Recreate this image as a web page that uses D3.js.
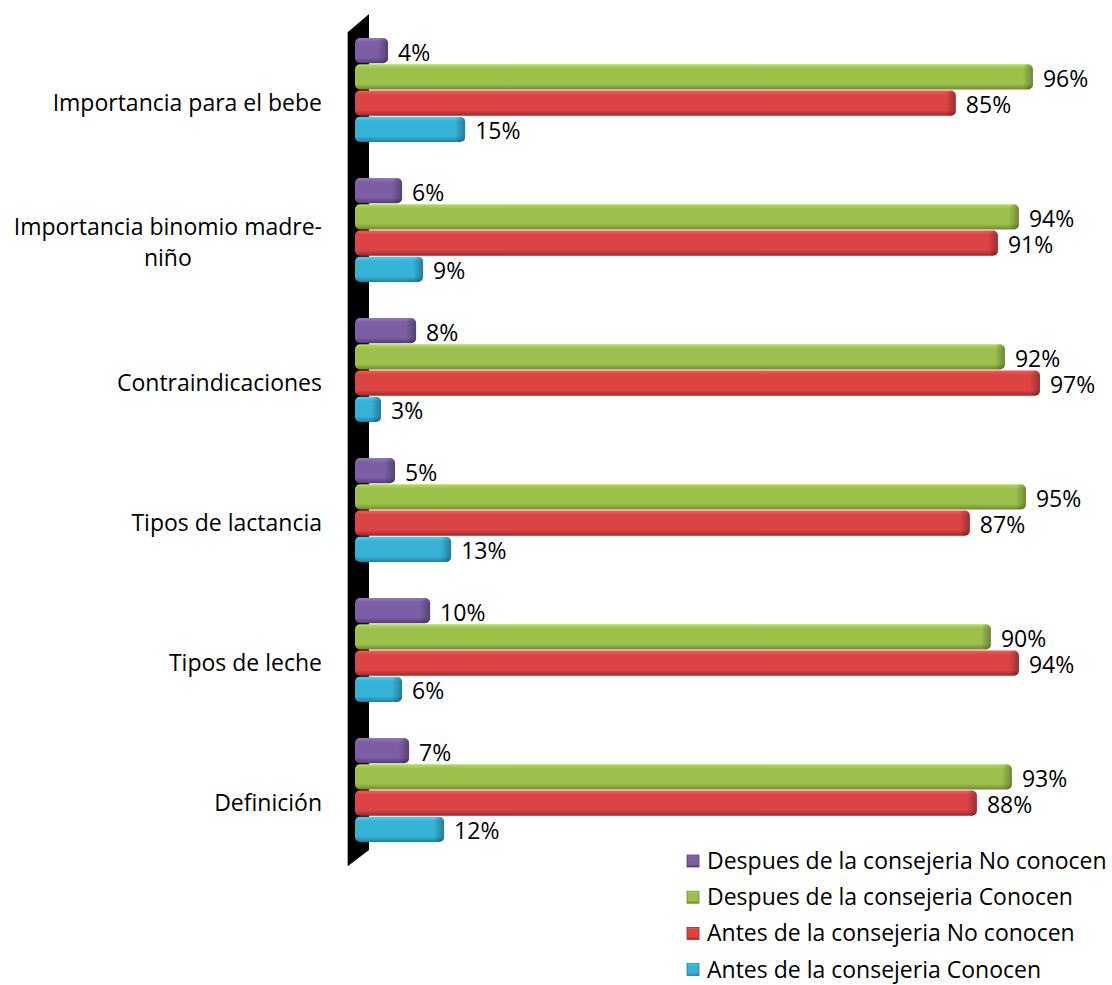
<!DOCTYPE html>
<html>
<head>
<meta charset="utf-8">
<script src="https://cdn.jsdelivr.net/npm/d3@7"></script>
<style>
  body { margin: 0; background: #fff; }
  text { font-family: "Open Sans", "Noto Sans", sans-serif; fill: #000; }
</style>
</head>
<body>
<div id="chart"></div>
<script>
var categories = [
    'Importancia para el bebe',
    'Importancia binomio madre-|niño',
    'Contraindicaciones',
    'Tipos de lactancia',
    'Tipos de leche',
    'Definición'
];

var series = [
    'Despues de la consejeria No conocen',
    'Despues de la consejeria Conocen',
    'Antes de la consejeria No conocen',
    'Antes de la consejeria Conocen'
];

// values per category, same order as categories
var despuesNoConocen = [4, 6, 8, 5, 10, 7];
var despuesConocen   = [96, 94, 92, 95, 90, 93];
var antesNoConocen   = [85, 91, 97, 87, 94, 88];
var antesConocen     = [15, 9, 3, 13, 6, 12];

var seriesValues = [despuesNoConocen, despuesConocen, antesNoConocen, antesConocen];

var colors = [
    { top: '#9378bb', mid: '#7b5ea3', bot: '#553a78' },
    { top: '#b6db60', mid: '#9cc04c', bot: '#6c8c2c' },
    { top: '#f25858', mid: '#dc4444', bot: '#a02828' },
    { top: '#55d0ef', mid: '#36b2d6', bot: '#1d82a3' }
];

var W = 1112, H = 985;
var fs = 23;

var svg = d3.select('#chart')
    .append('svg')
    .attr('width', W)
    .attr('height', H);

var defs = svg.append('defs');

colors.forEach(function(c, i) {
    var g = defs.append('linearGradient')
        .attr('id', 'grad' + i)
        .attr('x1', 0).attr('y1', 0).attr('x2', 0).attr('y2', 1);
    g.append('stop').attr('offset', '0%').attr('stop-color', c.top);
    g.append('stop').attr('offset', '18%').attr('stop-color', c.mid);
    g.append('stop').attr('offset', '78%').attr('stop-color', c.mid);
    g.append('stop').attr('offset', '100%').attr('stop-color', c.bot);
});

var capGrad = defs.append('linearGradient')
    .attr('id', 'capGrad')
    .attr('x1', 0).attr('y1', 0).attr('x2', 1).attr('y2', 0);
capGrad.append('stop').attr('offset', '0%').attr('stop-color', '#000').attr('stop-opacity', 0);
capGrad.append('stop').attr('offset', '100%').attr('stop-color', '#000').attr('stop-opacity', 0.3);

var x = d3.scaleLinear()
    .domain([0, 100])
    .range([360, 1061]);

var y = d3.scaleBand()
    .domain(categories)
    .range([20.5, 860.5])
    .paddingInner(0.25)
    .paddingOuter(0.125);

var ySeries = d3.scaleBand()
    .domain(series)
    .range([0, y.bandwidth()]);

var barStart = 355;

// wall (3D axis)
svg.append('polygon')
    .attr('points', [[348, 32], [369, 14], [369, 850], [348, 866]].join(' '))
    .attr('fill', '#000');
svg.append('line')
    .attr('x1', 347.5).attr('x2', 347.5)
    .attr('y1', 32).attr('y2', 866)
    .attr('stroke', '#aaa')
    .attr('stroke-width', 1);

// category labels
categories.forEach(function(cat) {
    var lines = cat.split('|');
    var cy = y(cat) + y.bandwidth() / 2 + 12;
    var t = svg.append('text')
        .attr('font-size', fs)
        .attr('text-anchor', lines.length > 1 ? 'middle' : 'end');
    if (lines.length === 1) {
        t.attr('x', 322).attr('y', cy).attr('dy', '0.35em').text(cat);
    } else {
        t.attr('y', cy - 16);
        var spans = lines.map(function(l, i) {
            return t.append('tspan')
                .attr('dy', i === 0 ? '0.35em' : '1.38em')
                .text(l);
        });
        var wmax = d3.max(spans, function(s) { return s.node().getComputedTextLength(); });
        spans.forEach(function(s) { s.attr('x', 322 - wmax / 2); });
    }
});

// bars
series.forEach(function(s, si) {
    var g = svg.append('g');
    var bh = ySeries.bandwidth() - 1;
    var bars = g.selectAll('g.bar')
        .data(categories.map(function(c, ci) { return { cat: c, v: seriesValues[si][ci] }; }))
        .enter()
        .append('g')
        .attr('class', 'bar');

    bars.append('rect')
        .attr('x', barStart)
        .attr('y', function(d) { return y(d.cat) + ySeries(s); })
        .attr('width', function(d) { return x(d.v) - barStart; })
        .attr('height', bh)
        .attr('rx', 5)
        .attr('fill', 'url(#grad' + si + ')');

    bars.append('rect')
        .attr('x', function(d) { return x(d.v) - 10; })
        .attr('y', function(d) { return y(d.cat) + ySeries(s); })
        .attr('width', 10)
        .attr('height', bh)
        .attr('rx', 5)
        .attr('fill', 'url(#capGrad)');

    bars.append('text')
        .attr('x', function(d) { return x(d.v) + 10; })
        .attr('y', function(d) { return y(d.cat) + ySeries(s) + bh / 2 + 2; })
        .attr('dy', '0.35em')
        .attr('font-size', fs)
        .text(function(d) { return d.v + '%'; });
});

// legend
var legend = svg.append('g');
series.forEach(function(s, i) {
    var ly = 861 + i * 36.2;
    legend.append('rect')
        .attr('x', 687).attr('y', ly - 6)
        .attr('width', 12).attr('height', 12)
        .attr('fill', 'url(#grad' + i + ')')
        .attr('stroke', colors[i].bot)
        .attr('stroke-width', 0.8);
    legend.append('text')
        .attr('x', 707).attr('y', ly)
        .attr('dy', '0.35em')
        .attr('font-size', fs)
        .text(s);
});
</script>
</body>
</html>
